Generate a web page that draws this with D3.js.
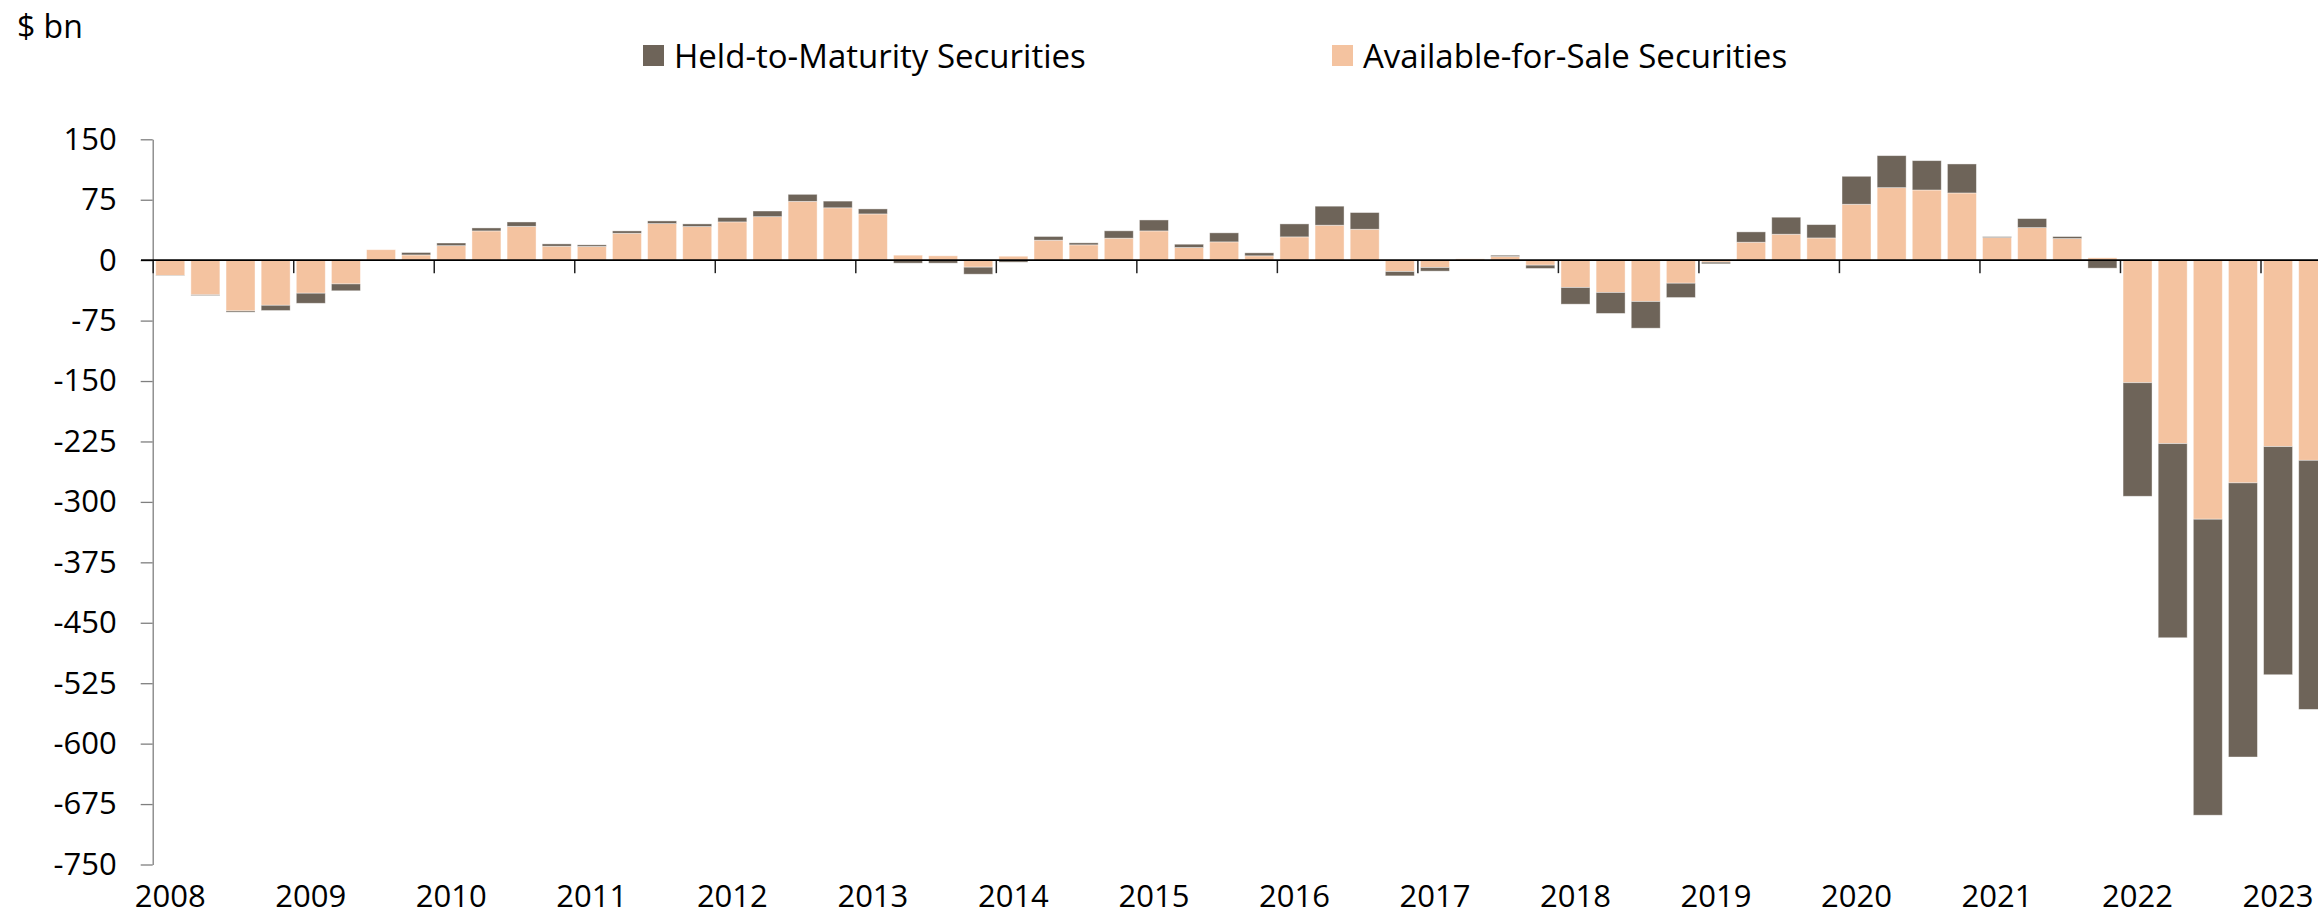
<!DOCTYPE html>
<html>
<head>
<meta charset="utf-8">
<script src="https://cdn.jsdelivr.net/npm/d3@7"></script>
<style>
  body { margin: 0; background: #fff; }
  text { font-family: "Open Sans", "Noto Sans", sans-serif; fill: #000; }
</style>
</head>
<body>
<script>
  var width = 2318;
  var height = 920;

  var htmColor = '#6e6459'
  var afsColor = '#f4c3a0'

  // year labels on the x axis (one per Q1 bar)
  var years = ['2008','2009','2010','2011','2012','2013','2014','2015',
               '2016','2017','2018','2019','2020','2021','2022','2023'];

  // y axis tick labels
  var yTicks = [150, 75, 0, -75, -150, -225, -300, -375, -450, -525, -600, -675, -750];

  // quarterly change, $ bn, 2008Q1 .. 2023Q2
  var afs = [-19, -43, -63, -56, -41, -29.5, 13, 6.5,
             18, 36.3, 42, 17.3, 17, 33.4, 45.4, 41.7,
             47.5, 54, 73, 65, 57.4, 6.2, 5.4, -8.7,
             4.9, 24.8, 19, 27.3, 36.3, 15.7, 22.7, 5.4,
             28.9, 43.4, 38.4, -14.1, -9.1, 1.6, 4.5, -6.2,
             -33.9, -40.1, -51.3, -28.6, -2.5, 22.3, 32.2, 27.6,
             69.4, 90, 87.1, 83.4, 28, 40.4, 26.8, 2.9,
             -152.1, -227.7, -321.5, -276.4, -231.4, -248.4];

  var htm = [-0.5, -1, -1.5, -6.5, -12.5, -8.5, 0, 3,
             3.3, 3.7, 5.4, 2.9, 2, 2.9, 3.3, 3.3,
             5.4, 7, 8.7, 8.3, 6.2, -3.7, -3.7, -8.7,
             -2.5, 4.6, 2.5, 9.1, 13.6, 4.1, 11.2, 3.7,
             16.1, 23.6, 20.7, -5.4, -4.5, 0, 1.6, -4.1,
             -20.7, -26, -33.1, -17.8, -2, 12.8, 21.1, 16.5,
             34.7, 39.7, 36.4, 36, 1.2, 11.2, 2.5, -9.9,
             -140.9, -240.9, -367.3, -340.2, -283.1, -309.1];

  var quarters = [];
  years.forEach(function(y) {
    ['Q1','Q2','Q3','Q4'].forEach(function(q) { quarters.push(y + q); });
  });
  quarters = quarters.slice(0, afs.length);

  var table = quarters.map(function(q, i) {
    return { q: q, afs: afs[i], htm: htm[i] };
  });

  var x0 = 152.7, step = 35.13;

  var x = d3.scaleBand()
    .domain(quarters)
    .range([x0, x0 + quarters.length * step])
    .paddingInner(0.175)
    .paddingOuter(0.0875);

  var y = d3.scaleLinear()
    .domain([-750, 150])
    .range([864.5, 139.3]);

  var svg = d3.select("body")
    .append("svg")
    .attr("width", width)
    .attr("height", height);

  // AFS sits next to zero, HTM stacked beyond it
  var series = d3.stack()
    .keys(['afs', 'htm'])
    .offset(d3.stackOffsetDiverging)(table);

  var colors = { afs: afsColor, htm: htmColor };

  svg.append("g")
    .selectAll("g")
    .data(series)
    .enter()
    .append("g")
    .style("fill", function(d) { return colors[d.key]; })
    .selectAll("rect")
    .data(function(d) { return d; })
    .enter()
    .append("rect")
    .attr("x", function(d) { return x(d.data.q); })
    .attr("width", x.bandwidth())
    .attr("y", function(d) { return y(Math.max(d[0], d[1])); })
    .attr("height", function(d) { return Math.abs(y(d[0]) - y(d[1])); })
    .style("stroke", "rgba(255,255,255,0.5)")
    .style("stroke-width", 0.8);

  // y axis (plain hyphen for negatives, like the original)
  var yAxis = svg.append("g")
    .attr("transform", "translate(" + x0 + ",0)")
    .call(d3.axisLeft(y)
      .tickValues(yTicks)
      .tickSize(12)
      .tickPadding(24)
      .tickSizeOuter(0)
      .tickFormat(function(d) { return String(d); }));
  yAxis.selectAll("text").style("font-size", "31px");
  yAxis.select(".domain").style("stroke", "#7f7f7f").style("stroke-width", 1.3);
  yAxis.selectAll(".tick line").style("stroke", "#7f7f7f").style("stroke-width", 1.3);

  // zero line with year boundary ticks
  var yearEdge = d3.scaleLinear()
    .domain([2008, 2008 + quarters.length / 4])
    .range([x0, x0 + quarters.length * step]);

  var xTicks = svg.append("g")
    .attr("transform", "translate(0," + y(0) + ")")
    .call(d3.axisBottom(yearEdge)
      .tickValues(years.map(Number))
      .tickSize(13)
      .tickFormat(""));
  xTicks.select(".domain").remove();
  xTicks.selectAll(".tick line").style("stroke", "#222").style("stroke-width", 1.5);

  svg.append("line")
    .attr("x1", 141)
    .attr("x2", width)
    .attr("y1", y(0))
    .attr("y2", y(0))
    .style("stroke", "#000")
    .style("stroke-width", 1.6);

  // year labels centred under each Q1 bar
  var xLabels = svg.append("g")
    .attr("transform", "translate(0,882)")
    .call(d3.axisBottom(x)
      .tickValues(years.map(function(yr) { return yr + 'Q1'; }))
      .tickSize(0)
      .tickFormat(function(d) { return d.slice(0, 4); }));
  xLabels.select(".domain").remove();
  xLabels.selectAll("text").style("font-size", "31px");

  // unit label
  svg.append("text")
    .attr("x", 17)
    .attr("y", 38)
    .style("font-size", "32px")
    .text("$ bn");

  // legend
  var legendItems = [
    { label: "Held-to-Maturity Securities", color: htmColor, x: 643 },
    { label: "Available-for-Sale Securities", color: afsColor, x: 1332 }
  ];

  var legend = svg.append("g")
    .selectAll("g")
    .data(legendItems)
    .enter()
    .append("g")
    .attr("transform", function(d) { return "translate(" + d.x + ",45)"; });

  legend.append("rect")
    .attr("width", 21)
    .attr("height", 21)
    .style("fill", function(d) { return d.color; });

  legend.append("text")
    .attr("x", 31)
    .attr("y", 11)
    .attr("dy", "0.35em")
    .style("font-size", "33px")
    .text(function(d) { return d.label; });
</script>
</body>
</html>
